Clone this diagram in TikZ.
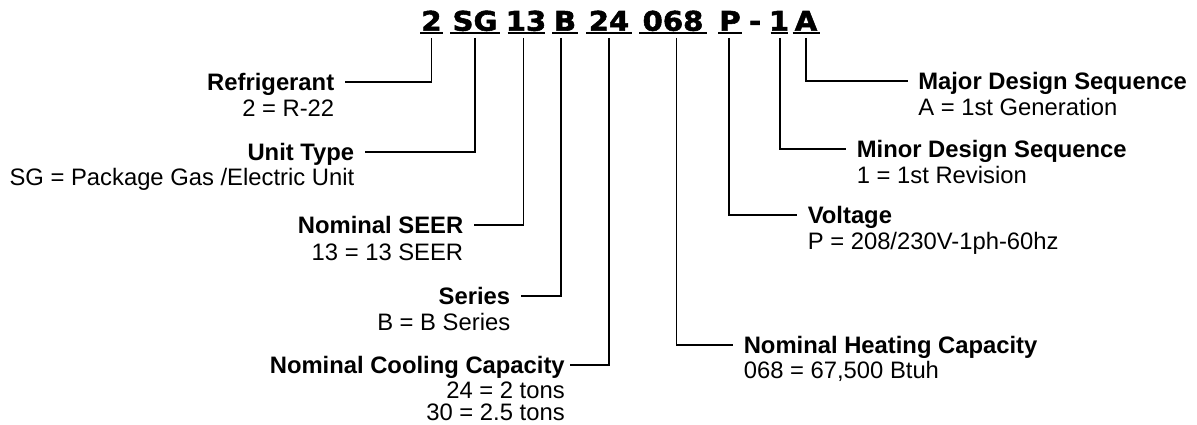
\documentclass[tikz,border=0pt]{standalone}
\usepackage{fontspec}
\setmainfont{Liberation Sans}
\newfontfamily\codefont{DejaVu Sans Bold}[FakeStretch=1.08, FakeBold=2]
\begin{document}
\begin{tikzpicture}[x=1pt, y=-1pt, line width=1.6pt]
	\tikzset{
		part/.style={font=\codefont\fontsize{27}{29}\selectfont, inner sep=0pt},
		title/.style={font=\bfseries\fontsize{23.8}{26}\selectfont, inner ysep=0pt, inner xsep=10pt, text height=17pt, text depth=0pt},
		value/.style={font=\fontsize{23.8}{26}\selectfont, inner ysep=0pt, inner xsep=10pt},
	}
	\useasboundingbox (0,0) rectangle (1197,425);
	\foreach \nm/\txt/\cx/\w/\lx in {R/2/431.5/22.5/431.5, T/SG/475/50/475, S/13/526/37/523.5, B/B/565/26/561, C/24/609/46/609, H/068/673/68/676.5, V/P/730/24/729, N/1/779/17/780, M/A/806/27/806}
		{
			\node[part, anchor=base] (\nm) at (\cx, 30.7) {\txt};
			\draw[line width=2.2pt] ([shift={(-\w/2, 2.6)}]\nm.base) -- ([shift={(\w/2, 2.6)}]\nm.base);
			\coordinate (\nm top) at (\lx, 38);
		}
	\node[part, anchor=base] (D) at (755, 30.7) {-};

	\node[title, anchor=east] (RT) at (345, 82) {Refrigerant};
	\node[value, anchor=base east] (RV) at ([yshift=-26pt]RT.base east) {2 = R-22};
	\node[title, anchor=east] (TT) at (365, 152) {Unit Type};
	\node[value, anchor=base east] (TV) at ([yshift=-25pt]TT.base east) {SG = Package Gas /Electric Unit};
	\node[title, anchor=east] (ST) at (474, 225) {Nominal SEER};
	\node[value, anchor=base east] (SV) at ([yshift=-27pt]ST.base east) {13 = 13 SEER};
	\node[title, anchor=east] (BT) at (521, 296) {Series};
	\node[value, anchor=base east] (BV) at ([yshift=-26pt]BT.base east) {B = B Series};
	\node[title, anchor=east, inner xsep=4.5pt] (CT) at (570, 365) {Nominal Cooling Capacity};
	\node[value, anchor=base east, inner xsep=4.5pt] (CV1) at ([yshift=-25pt]CT.base east) {24 = 2 tons};
	\node[value, anchor=base east, inner xsep=4.5pt] (CV2) at ([yshift=-47pt]CT.base east) {30 = 2.5 tons};

	\node[title, anchor=west] (MT) at (907.5, 81) {Major Design Sequence};
	\node[value, anchor=base west] (MV) at ([yshift=-26pt]MT.base west) {A = 1st Generation};
	\node[title, anchor=west] (NT) at (846, 149) {Minor Design Sequence};
	\node[value, anchor=base west] (NV) at ([yshift=-26pt]NT.base west) {1 = 1st Revision};
	\node[title, anchor=west] (VT) at (797, 215) {Voltage};
	\node[value, anchor=base west] (VV) at ([yshift=-26pt]VT.base west) {P = 208/230V-1ph-60hz};
	\node[title, anchor=west] (HT) at (733, 345) {Nominal Heating Capacity};
	\node[value, anchor=base west] (HV) at ([yshift=-25pt]HT.base west) {068 = 67,500 Btuh};

	\foreach \a/\b in {R/RT, T/TT, S/ST, B/BT, C/CT, H/HT, V/VT, N/NT, M/MT}
		{
			\draw (\a top) |- (\b);
		}
\end{tikzpicture}
\end{document}
